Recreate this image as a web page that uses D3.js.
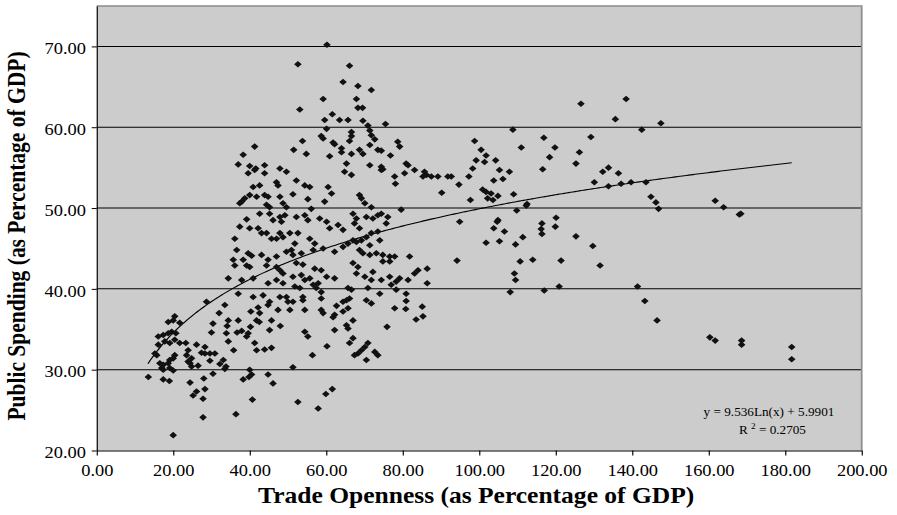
<!DOCTYPE html>
<html>
<head>
<meta charset="utf-8">
<script src="https://cdn.jsdelivr.net/npm/d3@7"></script>
<style>
  html, body { margin: 0; padding: 0; background: #ffffff; }
  svg { display: block; }
  text { font-family: "Liberation Serif", "Times New Roman", serif; fill: #000; }
</style>
</head>
<body>
<svg id="chart" width="897" height="515"></svg>
<script>
// Trade openness (% of GDP) per observation
const tradeOpenness = [
  52.6, 53.1, 53.8, 51.5, 41.3, 38.3, 37.0, 40.0, 41.6, 43.9, 47.9,
  39.6, 41.3, 43.9, 47.0, 47.4, 49.6, 42.6, 40.9, 40.0, 38.7,
  37.9, 37.4, 41.8, 43.9, 44.8, 44.4, 45.2, 47.9, 48.7, 49.6,
  39.2, 42.6, 45.2, 46.1, 47.9, 48.3, 49.2, 37.4, 40.0, 42.2,
  43.1, 44.4, 45.7, 47.0, 47.9, 48.7, 36.1, 36.6, 39.6, 40.5,
  43.1, 44.8, 47.0, 49.6, 35.7, 36.1, 38.3, 39.2, 40.0, 44.4,
  47.0, 47.9, 48.7, 34.4, 37.9, 40.9, 44.8, 47.0, 48.7, 37.0,
  40.9, 43.5, 47.9, 49.6,
  64.8, 66.6, 74.4, 77.9, 78.1, 80.5, 83.1, 52.2, 54.4, 55.7,
  60.5, 61.4, 51.3, 55.2, 59.6, 68.7, 69.2, 70.1, 71.8, 79.6,
  56.1, 52.2, 54.4, 55.2, 58.3, 60.1, 60.9, 63.1, 64.4, 67.0,
  67.9, 67.4, 68.7, 70.5, 72.2, 73.5, 74.4, 75.7, 76.1, 50.5,
  52.6, 55.7, 57.0, 51.8, 50.9, 51.3, 53.5, 56.6, 59.2, 62.2,
  64.4, 65.7, 67.0, 67.9, 69.2, 70.5, 71.8, 73.5, 74.0, 71.4,
  68.7, 69.6, 71.4, 73.1, 74.8, 76.6, 77.9, 81.8, 52.2, 53.9,
  57.0, 58.7, 67.0, 68.3, 72.2, 74.8, 76.6, 51.3, 53.5, 54.4,
  55.7, 56.6, 57.9, 60.1, 62.2, 67.9, 70.1, 71.8, 74.4, 76.6,
  78.3, 79.2, 81.4, 83.1, 84.0, 51.8, 53.1, 57.4, 58.7, 65.7,
  66.6, 70.9, 74.0, 77.0, 78.3, 80.9, 53.9, 58.7, 66.1,
  60.2, 66.1, 64.4, 68.3, 71.8, 59.2, 67.9, 68.3, 69.5, 61.6,
  59.6, 63.5, 65.7, 69.6, 70.9, 75.5, 60.1, 66.6, 66.6, 71.4,
  71.8, 72.7, 58.7, 59.2, 61.8, 62.2, 66.1, 71.4, 78.7, 79.2,
  54.8, 60.9, 64.0, 64.0, 66.6, 68.7, 69.6, 73.5, 74.4, 76.8,
  65.3, 71.4, 74.4, 74.8, 80.9, 81.4, 85.7, 86.2, 85.3, 87.5,
  89.2, 91.8, 92.7, 90.2, 94.7, 97.3, 98.3, 98.8, 100.5, 101.8,
  101.4, 99.2, 104.3, 105.3, 106.2, 107.9, 103.8, 109.0, 97.7, 100.9,
  101.8, 103.1, 102.2, 103.6, 104.9, 108.8, 111.0, 116.9, 119.8, 118.4,
  116.6, 126.2, 125.3, 126.6, 129.2, 130.1, 112.5, 112.3, 109.8, 104.9,
  104.7, 106.6, 103.8, 116.2, 116.4, 120.1, 119.9, 94.9,
  138.4, 135.6, 142.5, 147.5, 132.3, 133.8, 136.4, 133.8, 137.1, 139.7,
  143.6, 144.9, 146.2, 146.9, 161.7, 163.9, 168.0, 168.4, 131.6, 141.4,
  143.3, 146.5, 160.3, 161.7, 168.6, 168.6, 181.7, 181.7,
  86.4, 86.4, 85.3, 85.1, 94.2, 101.8, 105.3, 109.5, 111.4, 110.7,
  114.0, 116.4, 121.4, 125.3, 129.7, 109.2, 109.5, 108.1, 117.0, 120.9,
  80.9, 83.5, 77.9, 80.8, 75.9, 70.5, 71.8, 64.4, 65.7, 62.7,
  64.4, 62.2, 61.8, 58.7, 59.2, 54.4, 53.9, 65.3, 65.7, 62.2,
  67.0, 65.3, 66.1, 67.0, 67.4, 68.3, 69.2, 70.1, 70.9, 70.5,
  72.7, 73.5, 60.2, 56.4, 54.4, 55.2, 59.9, 61.6, 57.9,
  28.7, 33.5, 32.0, 18.7, 20.4, 20.0, 21.7, 30.4, 34.4, 34.1,
  37.0, 40.3, 42.2, 42.6, 44.8, 45.2, 47.4, 41.8, 42.5, 45.7,
  48.0, 40.2, 30.0, 33.9, 36.7, 37.9, 39.6, 39.2, 45.2, 50.5,
  50.0, 51.3, 17.4, 18.7, 19.6, 20.7, 16.1, 17.8, 19.1, 20.4,
  23.3, 23.9, 26.1, 28.3, 34.4, 41.3, 41.8, 43.9, 45.7, 35.8,
  15.2, 15.7, 20.4, 20.0, 23.5, 24.8, 23.9, 27.4, 28.3, 29.6,
  30.9, 29.6, 16.5, 17.4, 17.0, 18.7, 24.4, 24.8, 26.5, 32.2,
  33.1, 33.8, 33.5, 19.1, 20.0, 17.4, 13.5, 17.4, 19.0, 24.4,
  28.0, 30.4, 38.3, 40.0, 40.5, 39.8, 44.8, 46.1, 51.3, 26.1,
  25.2, 28.3, 27.8, 40.7, 52.6, 36.4, 27.8, 20.0, 16.1, 21.7, 19.1
];

// Public spending (% of GDP), same order as tradeOpenness
const publicSpending = [
  67.8, 62.2, 58.3, 57.2, 57.6, 56.6, 55.4, 55.2, 54.9, 55.3, 54.9,
  54.3, 54.7, 54.3, 53.2, 52.8, 54.5, 52.8, 52.6, 51.6, 51.2,
  50.8, 50.6, 51.4, 51.6, 51.4, 50.4, 50.1, 51.4, 50.6, 50.1,
  48.6, 49.3, 49.3, 48.5, 48.9, 48.3, 49.1, 47.7, 47.5, 47.5,
  46.9, 46.9, 46.2, 46.2, 46.9, 46.4, 46.2, 44.8, 44.4, 44.1,
  44.2, 43.6, 44.0, 44.6, 43.6, 42.9, 43.6, 42.9, 42.7, 42.9,
  42.7, 42.3, 41.9, 41.3, 41.1, 41.3, 40.7, 41.1, 40.7, 39.4,
  39.0, 39.2, 39.0, 39.0,
  54.5, 54.1, 54.7, 53.9, 53.0, 54.3, 54.7, 53.4, 52.8, 52.6,
  52.6, 51.8, 51.7, 51.1, 50.8, 51.6, 51.2, 50.6, 50.1, 49.8,
  49.9, 48.9, 49.1, 48.5, 48.7, 48.3, 47.5, 47.9, 47.3, 49.3,
  48.7, 48.1, 47.5, 48.9, 48.7, 49.1, 49.3, 48.1, 48.9, 46.9,
  46.9, 46.2, 45.6, 45.6, 44.8, 44.2, 44.4, 44.8, 45.0, 44.6,
  45.2, 45.6, 46.0, 45.8, 46.0, 46.4, 46.9, 47.1, 46.0, 45.4,
  44.8, 44.4, 44.2, 44.4, 44.2, 44.0, 44.0, 44.0, 43.2, 43.0,
  42.5, 42.3, 43.2, 42.7, 42.1, 43.4, 43.4, 41.5, 41.7, 41.1,
  41.3, 40.5, 40.7, 41.5, 41.3, 41.9, 41.5, 41.1, 41.1, 41.5,
  40.9, 41.3, 41.1, 41.9, 42.3, 40.3, 40.1, 40.1, 39.6, 40.1,
  39.9, 40.1, 39.4, 40.5, 39.9, 39.4, 39.0, 38.8, 38.8,
  70.2, 67.6, 65.6, 65.1, 64.6, 63.5, 63.5, 62.4, 62.4, 61.6,
  60.9, 60.9, 60.9, 60.8, 60.2, 60.4, 59.8, 59.4, 58.9, 59.6,
  59.0, 58.5, 58.9, 58.6, 58.1, 57.9, 58.3, 57.8, 58.2, 57.6,
  56.7, 56.4, 57.4, 56.9, 56.7, 57.2, 56.7, 57.2, 57.1, 56.5,
  55.5, 55.3, 55.1, 54.8, 55.5, 55.3, 54.5, 54.1, 53.9, 53.9,
  53.9, 53.9, 53.9, 51.9, 52.9, 53.9, 54.9, 58.3, 57.2, 56.5,
  55.7, 55.9, 55.9, 54.7, 53.6, 54.5, 53.4, 51.7, 51.0, 52.3,
  52.0, 51.8, 51.2, 51.0, 51.5, 59.7, 57.5, 58.7, 57.5, 56.3,
  54.8, 56.9, 55.5, 62.9, 58.8, 53.2, 50.5, 50.3, 49.7, 48.5,
  48.3, 47.1, 47.5, 47.4, 48.1, 48.8, 47.7, 48.3,
  63.5, 61.0, 59.7, 60.5, 54.5, 55.0, 54.3, 52.7, 53.0, 53.2,
  53.2, 51.4, 50.7, 49.9, 50.9, 50.1, 49.2, 49.3, 42.9, 40.3,
  38.5, 36.1, 34.0, 33.6, 33.6, 33.1, 32.8, 31.3,
  42.5, 40.7, 36.6, 37.8, 43.5, 45.7, 45.9, 45.5, 46.4, 43.4,
  43.6, 46.8, 43.5, 46.5, 45.3, 41.9, 41.1, 39.6, 39.8, 40.3,
  38.5, 36.2, 37.6, 37.5, 35.3, 38.6, 38.2, 38.4, 37.6, 37.9,
  37.2, 36.8, 36.5, 37.4, 37.0, 37.4, 38.6, 35.5, 35.1, 34.9,
  36.1, 38.6, 33.3, 33.9, 31.8, 32.0, 32.4, 32.8, 33.3, 31.2,
  32.2, 31.8, 32.9, 31.8, 34.7, 34.1, 27.0, 27.6, 25.2,
  38.4, 38.0, 37.0, 35.9, 36.6, 36.1, 35.8, 35.7, 36.1, 35.4,
  36.1, 37.2, 37.7, 37.0, 38.0, 38.4, 37.4, 36.1, 35.9, 36.1,
  35.4, 35.3, 34.6, 34.5, 34.6, 34.8, 34.5, 34.1, 34.9, 37.4,
  38.4, 38.4, 34.3, 34.5, 34.7, 34.5, 33.1, 33.5, 33.3, 33.7,
  33.3, 32.4, 33.1, 32.8, 33.5, 33.3, 32.4, 32.5, 32.7, 32.4,
  32.0, 31.8, 31.8, 31.4, 31.8, 31.4, 31.0, 32.1, 32.0, 32.0,
  32.0, 31.1, 30.8, 30.6, 30.2, 30.8, 30.8, 30.4, 30.5, 30.7,
  31.2, 30.4, 30.1, 30.2, 29.9, 30.0, 29.1, 28.8, 28.6, 28.4,
  28.9, 29.5, 28.8, 30.0, 29.4, 29.1, 29.4, 28.3, 30.3, 27.3,
  26.8, 27.6, 26.4, 26.3, 26.0, 24.5, 24.1, 21.9, 34.1, 33.3, 31.2
];

const xTicks = [0, 20, 40, 60, 80, 100, 120, 140, 160, 180, 200];
const yTicks = [20, 30, 40, 50, 60, 70];

// Logarithmic trend: y = a * ln(x) + b, over the observed x span
const trendCoef = [9.536, 5.9901];
const trendSpan = [13.4, 181.7];
const rSquared = "0.2705";

const xTitle = "Trade Openness (as Percentage of GDP)";
const yTitle = "Public Spending (as Percentage of GDP)";

// ---- layout ----
const stretch = 1.15;                    // horizontal stretch of the whole figure
const plotLeft = 96.7 / stretch;
const plotRight = 861.7 / stretch;
const plotTop = 6;
const plotBottom = 450.5;

const svg = d3.select("#chart");
const g = svg.append("g").attr("transform", `scale(${stretch},1)`);

const x = d3.scaleLinear().domain([0, 200]).range([plotLeft, plotRight]);
const y = d3.scaleLinear().domain([20, 75]).range([plotBottom, plotTop]);

// plot area
g.append("rect")
  .attr("x", plotLeft).attr("y", plotTop)
  .attr("width", plotRight - plotLeft).attr("height", plotBottom - plotTop)
  .attr("fill", "#cccccc");

// horizontal gridlines
g.append("g").selectAll("line")
  .data(yTicks.filter(d => d > 20))
  .join("line")
  .attr("x1", plotLeft).attr("x2", plotRight)
  .attr("y1", d => y(d)).attr("y2", d => y(d))
  .attr("stroke", "#000").attr("stroke-width", 1);

// top and right frame
g.append("path")
  .attr("d", `M${plotLeft},${plotTop}H${plotRight}V${plotBottom}`)
  .attr("fill", "none").attr("stroke", "#8c8c8c").attr("stroke-width", 1.5);

// axes
const yAxis = g.append("g")
  .attr("transform", `translate(${plotLeft},0)`)
  .call(d3.axisLeft(y).tickValues(yTicks).tickFormat(d3.format(".2f"))
    .tickSizeInner(5 / stretch).tickSizeOuter(0).tickPadding(5));
yAxis.selectAll("text").attr("dy", "0.45em").style("font-size", "16px");

const xAxis = g.append("g")
  .attr("transform", `translate(0,${plotBottom})`)
  .call(d3.axisBottom(x).tickValues(xTicks).tickFormat(d3.format(".2f"))
    .tickSizeInner(5).tickSizeOuter(0).tickPadding(9));
xAxis.selectAll("text").style("font-size", "16px");

[yAxis, xAxis].forEach(ax => {
  ax.select(".domain").attr("stroke", "#000").attr("stroke-width", 1);
  ax.selectAll(".tick line").attr("stroke", "#000");
  ax.selectAll("text").attr("fill", "#000").style("font-family", "'Liberation Serif', serif");
});

// trend curve
const trendPts = d3.range(0, 301).map(i => trendSpan[0] + (trendSpan[1] - trendSpan[0]) * i / 300);
g.append("path")
  .datum(trendPts)
  .attr("fill", "none").attr("stroke", "#000").attr("stroke-width", 1.1)
  .attr("d", d3.line().x(d => x(d)).y(d => y(trendCoef[0] * Math.log(d) + trendCoef[1])));

// scatter markers (diamonds)
const r = 3.3;
const diamond = `M0,${-r}L${r},0L0,${r}L${-r},0Z`;
g.append("g").selectAll("path")
  .data(d3.range(tradeOpenness.length))
  .join("path")
  .attr("d", diamond)
  .attr("transform", i => `translate(${x(tradeOpenness[i])},${y(publicSpending[i])})`)
  .attr("fill", "#111");

// trend equation
const eqX = 769 / stretch;
g.append("text")
  .attr("x", eqX).attr("y", 416)
  .attr("text-anchor", "middle")
  .style("font-size", "11.5px")
  .text(`y = ${trendCoef[0]}Ln(x) + ${trendCoef[1]}`);
const r2 = g.append("text")
  .attr("x", eqX + 3).attr("y", 434)
  .attr("text-anchor", "middle")
  .style("font-size", "11.5px");
r2.append("tspan").text("R ");
r2.append("tspan").attr("dy", -5).style("font-size", "8px").text("2");
r2.append("tspan").attr("dy", 5).text(` = ${rSquared}`);

// axis titles
g.append("text")
  .attr("x", (plotLeft + plotRight) / 2 - 3 / stretch).attr("y", 503)
  .attr("text-anchor", "middle")
  .style("font-size", "22.2px").style("font-weight", "bold")
  .text(xTitle);

g.append("text")
  .attr("transform", `translate(${25 / stretch},236) rotate(-90)`)
  .attr("text-anchor", "middle")
  .style("font-size", "21.5px").style("font-weight", "bold")
  .text(yTitle);
</script>
</body>
</html>
